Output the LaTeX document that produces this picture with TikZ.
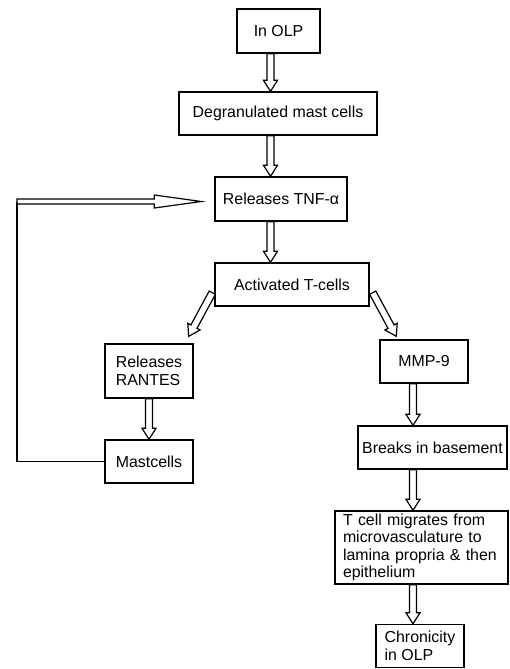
\documentclass[tikz,border=0pt]{standalone}
\usepackage{fontspec}
\setmainfont{Liberation Sans}
\usetikzlibrary{calc}

% open block arrow: from, to, head length, head half width, shaft half width
\newcommand{\hollowarrow}[5]{%
  \path ($(#2)!#3!(#1)$) coordinate (habase);
  \draw[arrowline]
    ($(#1)!#5!90:(#2)$) -- ($(habase)!#5!90:(#2)$) -- ($(habase)!#4!90:(#2)$)
    -- (#2) -- ($(habase)!#4!-90:(#2)$) -- ($(habase)!#5!-90:(#2)$)
    -- ($(#1)!#5!-90:(#2)$) -- cycle;
}

\begin{document}
\begin{tikzpicture}[
    x=1pt, y=1pt,
    box/.style={
        draw,
        line width=1.4pt,
        font=\fontsize{15.9}{17.5}\selectfont,
        inner sep=2pt,
        minimum height=43pt
    },
    leftbox/.style={
        box,
        align=left
    },
    arrowline/.style={line width=1.2pt, fill=white, line join=miter},
    loopline/.style={line width=1.8pt}
]
\useasboundingbox (0,0) rectangle (509,-669);

% MAIN COLUMN
\node[box, minimum width=83pt, minimum height=44pt] (olp) at (278.5,-31) {In OLP};
\node[box, minimum width=198pt] (degran) at (278,-113.5) {Degranulated mast cells};
\node[box, minimum width=132pt, minimum height=44pt] (tnf) at (281,-199) {Releases TNF-α};
\node[box, minimum width=154pt] (tcells) at (292,-284.5) {Activated T-cells};

\coordinate (col) at (270.5,0);
\hollowarrow{olp.south -| col}{degran.north -| col}{11pt}{7pt}{3.5pt}
\hollowarrow{degran.south -| col}{tnf.north -| col}{11pt}{7pt}{3.5pt}
\hollowarrow{tnf.south -| col}{tcells.north -| col}{11pt}{7pt}{3.5pt}

% LEFT BRANCH
\node[leftbox, minimum width=88pt, minimum height=54pt] (rantes) at (149,-371)
{Releases\\RANTES};
\node[box, minimum width=88pt] (mast) at (149,-461.5) {Mastcells};

\hollowarrow{$(tcells.south west)+(-2,14)$}{$(rantes.north east)+(-5,7)$}{11pt}{7pt}{3.5pt}
\hollowarrow{rantes.south}{mast.north}{11pt}{7pt}{3.5pt}

% FEEDBACK
\coordinate (loop) at (17,-201.5);
\draw[loopline] (mast.west) -| (loop);
\hollowarrow{loop}{$(tnf.west)+(-13,-2.5)$}{47pt}{6.5pt}{2.5pt}

% RIGHT BRANCH
\node[box, minimum width=88pt] (mmp) at (424,-361.5) {MMP-9};
\node[box, minimum width=149pt] (breaks) at (432.5,-447.5) {Breaks in basement};
\node[leftbox, text width=157pt, inner xsep=8pt, minimum height=73pt] (migrate) at (421.5,-547.5)
{T cell migrates from\\microvasculature to\\lamina propria \& then\\epithelium};
\node[leftbox, minimum width=88pt] (chronic) at (420,-646) {Chronicity\\in OLP};

\coordinate (col2) at (413,0);
\hollowarrow{$(tcells.south east)+(3,14)$}{$(mmp.north west)+(17,3)$}{11pt}{7pt}{3.5pt}
\hollowarrow{mmp.south -| col2}{breaks.north -| col2}{11pt}{7pt}{3.5pt}
\hollowarrow{breaks.south -| col2}{migrate.north -| col2}{11pt}{7pt}{3.5pt}
\hollowarrow{migrate.south -| col2}{chronic.north -| col2}{11pt}{7pt}{3.5pt}

\end{tikzpicture}
\end{document}
